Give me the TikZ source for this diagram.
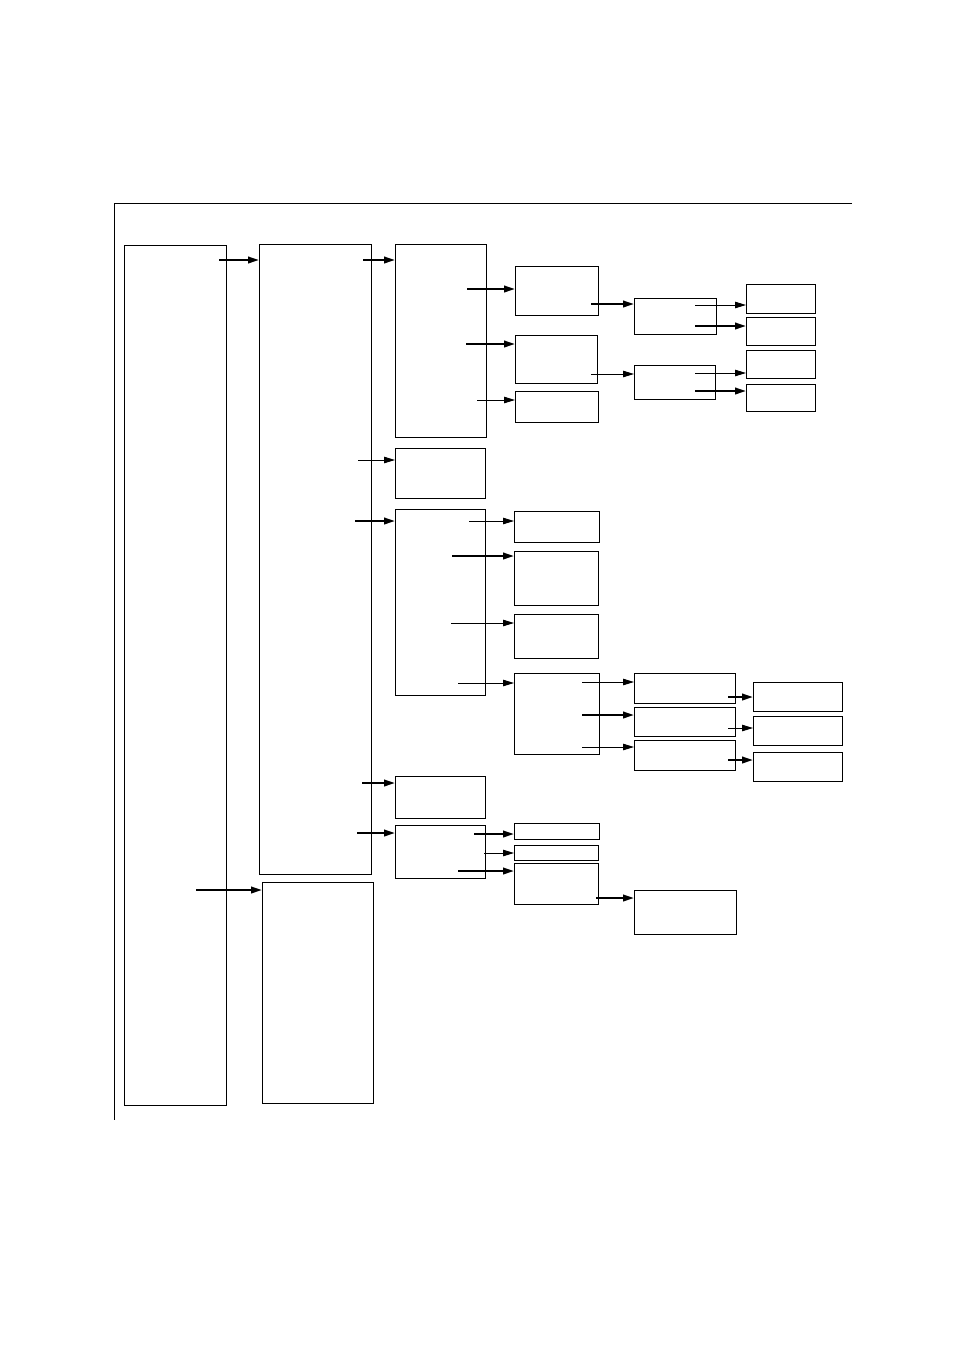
\documentclass[tikz,border=0pt]{standalone}
\usetikzlibrary{arrows.meta}

\tikzset{
  box/.style={draw,line width=1pt,inner sep=0pt,anchor=north west},
  thinarr/.style={line width=0.9pt,-{Triangle[length=11pt,width=6.5pt]}},
  thickarr/.style={line width=2.2pt,-{Triangle[length=11pt,width=6.5pt]}},
}

\begin{document}
\begin{tikzpicture}[x=1pt,y=-1pt]
\useasboundingbox (0,0) rectangle (954,1350);
% frame (top and left edges only)
\draw[line width=1pt] (852,203) -- (114,203) -- (114,1120);
% boxes: name / left / top / right / bottom
\foreach \n/\a/\b/\c/\d in {
  A/124/245/226/1105,
  B/259/244/371/874, C/262/882/373/1103,
  D/395/244/486/437, E/395/448/485/498, F/395/509/485/695,
  G/395/776/485/818, H/395/825/485/878,
  D1/515/266/598/315, D2/515/335/597/383, D3/515/391/598/422,
  D1a/634/298/716/334, D2a/634/365/715/399,
  K1/746/284/815/313, K2/746/317/815/345, K3/746/350/815/378, K4/746/384/815/411,
  F1/514/511/599/542, F2/514/551/598/605, F3/514/614/598/658, F4/514/673/599/754,
  F4a/634/673/735/703, F4b/634/707/735/736, F4c/634/740/735/770,
  L1/753/682/842/711, L2/753/716/842/745, L3/753/752/842/781,
  H1/514/823/599/839, H2/514/845/598/860, H3/514/863/598/904,
  H3a/634/890/736/934}
  \node[box,minimum width=\c pt-\a pt,minimum height=\d pt-\b pt] (\n) at (\a,\b) {};
% arrows: from / to / height / inset into source / style
\foreach \s/\t/\y/\i/\w in {
  A/B/260/8/thickarr, A/C/890/31/thickarr,
  B/D/260/9/thickarr, B/E/460/14/thinarr, B/F/521/17/thickarr,
  B/G/783/10/thickarr, B/H/833/15/thickarr,
  D/D1/289/20/thickarr, D/D2/344/21/thickarr, D/D3/400/10/thinarr,
  D1/D1a/304/8/thickarr, D2/D2a/374/7/thinarr,
  D1a/K1/305/22/thinarr, D1a/K2/326/22/thickarr,
  D2a/K3/373/21/thinarr, D2a/K4/391/21/thickarr,
  F/F1/521/17/thinarr, F/F2/556/34/thickarr, F/F3/623/35/thinarr, F/F4/683/28/thinarr,
  F4/F4a/682/18/thinarr, F4/F4b/715/18/thickarr, F4/F4c/747/18/thinarr,
  F4a/L1/697/8/thickarr, F4b/L2/728/8/thinarr, F4c/L3/760/8/thickarr,
  H/H1/834/12/thickarr, H/H2/853/2/thinarr, H/H3/871/28/thickarr,
  H3/H3a/898/3/thickarr}
  \draw[\w] (\s.east |- 0,\y) ++(-\i,0) -- (\t.west |- 0,\y);
\end{tikzpicture}
\end{document}
